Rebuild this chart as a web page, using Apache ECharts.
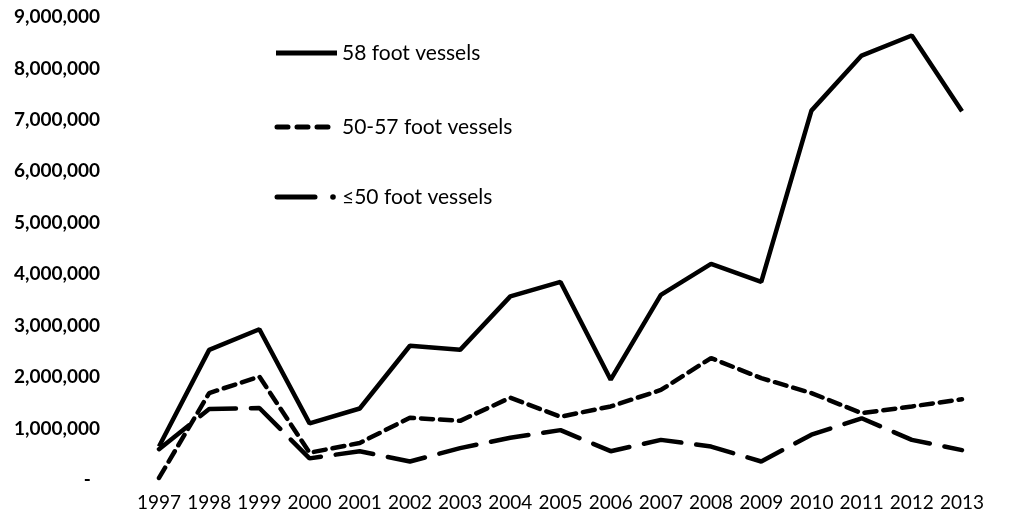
<!DOCTYPE html>
<html>
<head>
<meta charset="UTF-8">
<script type="text/javascript" src="https://cdn.jsdelivr.net/npm/echarts@6/dist/echarts.min.js"></script>
<title>Vessels</title>
</head>
<body style="margin:0;background:#fff;">
	<div id="main" style="width:1014px;height:518px;"></div>
	<script type="text/javascript">
		var years = ['1997','1998','1999','2000','2001','2002','2003','2004','2005','2006','2007','2008','2009','2010','2011','2012','2013'];
		var names = ['58 foot vessels','50-57 foot vessels','\u226450 foot vessels'];
		var ft58 = [650000,2530000,2930000,1100000,1390000,2610000,2530000,3570000,3850000,1950000,3600000,4200000,3850000,7180000,8250000,8640000,7170000];
		var ft50to57 = [40000,1690000,2010000,530000,720000,1210000,1150000,1600000,1230000,1430000,1750000,2370000,1980000,1690000,1300000,1430000,1570000];
		var ft50under = [600000,1380000,1400000,420000,560000,360000,620000,820000,970000,560000,780000,650000,360000,880000,1200000,780000,580000];

		var myChart = echarts.init(document.getElementById("main"));
		var font = 'Lato, "Open Sans", sans-serif';

		function fmt(v){
			if(v === 0) return '-  ';
			return v.toLocaleString('en-US');
		}

		// hand drawn legend (line keys like the original)
		function legendText(txt, y){
			return {type:'text',x:342,y:y,style:{text:txt,fill:'#000',font:'21px Lato, "Open Sans", sans-serif',verticalAlign:'middle',align:'left'}};
		}
		var graphic = [
			{type:'line',shape:{x1:276,y1:53,x2:337,y2:53},style:{stroke:'#000',lineWidth:5}},
			legendText(names[0],53),
			{type:'line',shape:{x1:277,y1:127,x2:328,y2:127},style:{stroke:'#000',lineWidth:5,lineDash:[11,9],lineCap:'round'}},
			legendText(names[1],127),
			{type:'line',shape:{x1:277,y1:197,x2:315,y2:197},style:{stroke:'#000',lineWidth:5,lineCap:'round'}},
			{type:'circle',shape:{cx:333,cy:197,r:2.8},style:{fill:'#000'}},
			legendText(names[2],197)
		];

		var option = {
				animation:false,
				backgroundColor:'#fff',
				grid:{left:159,right:52,top:17,bottom:38},
				graphic:graphic,
				xAxis:{
					type:'category',
					boundaryGap:false,
					data:years,
					axisLine:{show:false},
					axisTick:{show:false},
					axisLabel:{color:'#000',fontFamily:font,fontSize:19,margin:13,interval:0}
				},
				yAxis:{
					type:'value',
					min:0,
					max:9000000,
					interval:1000000,
					splitLine:{show:false},
					axisLine:{show:false},
					axisTick:{show:false},
					axisLabel:{color:'#000',fontFamily:font,fontSize:19,fontWeight:'bold',margin:59,formatter:fmt}
				},
				series:[{
					name:names[0],
					type:'line',
					symbol:'none',
					data:ft58,
					lineStyle:{color:'#000',width:4.5,type:'solid'}
				},{
					name:names[1],
					type:'line',
					symbol:'none',
					data:ft50to57,
					lineStyle:{color:'#000',width:4.5,type:[12,7],cap:'round'}
				},{
					name:names[2],
					type:'line',
					symbol:'none',
					data:ft50under,
					lineStyle:{color:'#000',width:4.5,type:[38,15],cap:'round'}
				}]
		};
		myChart.setOption(option);
	</script>
</body>
</html>
